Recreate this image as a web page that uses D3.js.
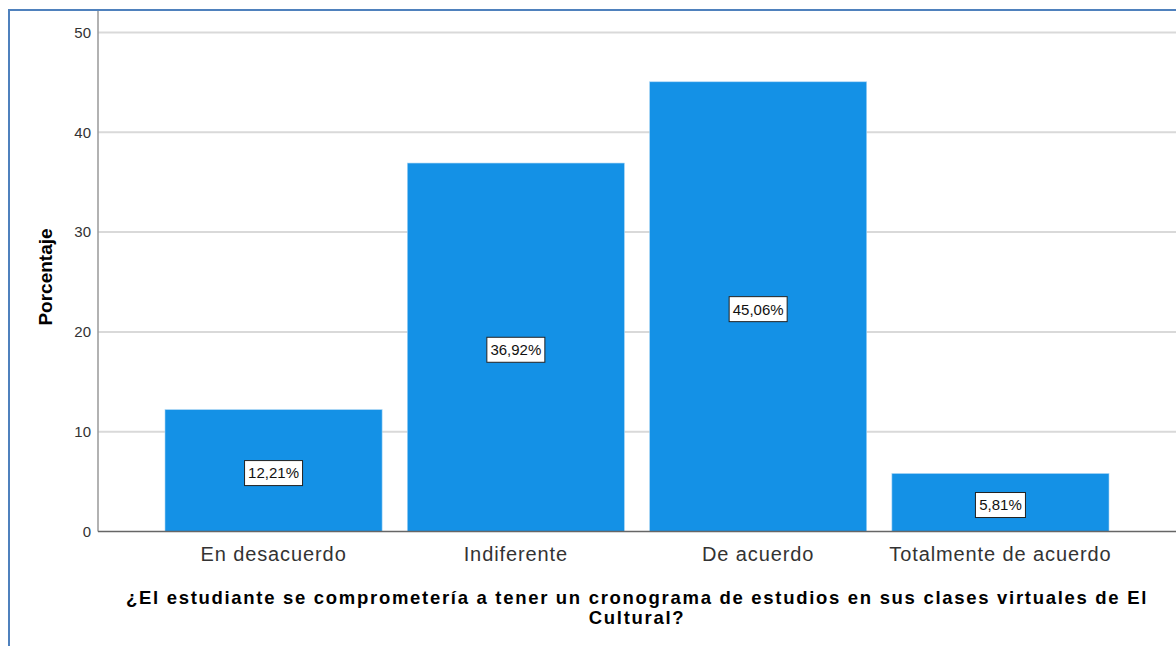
<!DOCTYPE html>
<html>
<head>
<meta charset="utf-8">
<script src="https://cdn.jsdelivr.net/npm/d3@7"></script>
<style>
  body { margin: 0; background: #fff; }
  svg { display: block; font-family: Arial, 'Liberation Sans', sans-serif; }
</style>
</head>
<body>
<div id="grafico"></div>
<script>
// datos
var categorias = ['En desacuerdo', 'Indiferente', 'De acuerdo', 'Totalmente de acuerdo']
var porcentajes = [12.21, 36.92, 45.06, 5.81]
var etiquetas = ['12,21%', '36,92%', '45,06%', '5,81%']
var ticksY = [0, 10, 20, 30, 40, 50]

var width = 1176
var height = 646

var svg = d3
  .select('#grafico')
  .append('svg')
  .attr('width', width)
  .attr('height', height)

// marco azul
svg
  .append('rect')
  .attr('x', 9)
  .attr('y', 10)
  .attr('width', width + 20)
  .attr('height', height + 20)
  .attr('fill', 'none')
  .attr('stroke', '#4f81bd')
  .attr('stroke-width', 2)

var ejeX0 = 98
var ejeY0 = 531.5

var yscale = d3.scaleLinear().domain([0, 50]).range([ejeY0, 32.5])

var xscale = d3
  .scaleBand()
  .domain(categorias)
  .range([152.4, 1121.6])
  .paddingInner(0.104)
  .paddingOuter(0.052)

// lineas de cuadricula
svg
  .append('g')
  .selectAll('line')
  .data(ticksY.filter((d) => d > 0))
  .enter()
  .append('line')
  .attr('x1', ejeX0)
  .attr('x2', width)
  .attr('y1', (d) => yscale(d))
  .attr('y2', (d) => yscale(d))
  .attr('stroke', '#d9d9d9')
  .attr('stroke-width', 2)

// eje Y
var yaxis = d3.axisLeft(yscale).tickValues(ticksY).tickSize(0).tickPadding(7)
var gY = svg.append('g').attr('transform', 'translate(' + ejeX0 + ',0)').call(yaxis)
gY.select('.domain').remove()
gY.selectAll('text').attr('fill', '#333').style('font-size', '15px').style('font-family', 'Arial, Liberation Sans, sans-serif')

svg
  .append('line')
  .attr('x1', ejeX0)
  .attr('x2', ejeX0)
  .attr('y1', 11)
  .attr('y2', ejeY0)
  .attr('stroke', '#999')
  .attr('stroke-width', 1.5)

// barras
svg
  .append('g')
  .selectAll('rect')
  .data(porcentajes)
  .enter()
  .append('rect')
  .attr('x', (d, i) => xscale(categorias[i]))
  .attr('y', (d) => yscale(d))
  .attr('width', xscale.bandwidth())
  .attr('height', (d) => yscale(0) - yscale(d))
  .attr('fill', '#1491e6')
  .attr('stroke', '#a9d6f5')
  .attr('stroke-width', 0.6)

// eje X
svg
  .append('line')
  .attr('x1', ejeX0)
  .attr('x2', width)
  .attr('y1', ejeY0)
  .attr('y2', ejeY0)
  .attr('stroke', '#666')
  .attr('stroke-width', 1.5)

var xaxis = d3.axisBottom(xscale).tickSize(0).tickPadding(15)
var gX = svg.append('g').attr('transform', 'translate(0,' + ejeY0 + ')').call(xaxis)
gX.select('.domain').remove()
gX.selectAll('text')
  .attr('fill', '#333')
  .style('font-size', '20px')
  .style('letter-spacing', '0.9px')
  .style('font-family', 'Arial, Liberation Sans, sans-serif')

// etiquetas de valor con caja
var etiq = svg
  .append('g')
  .selectAll('g')
  .data(porcentajes)
  .enter()
  .append('g')
  .attr('transform', (d, i) => 'translate(' + (xscale(categorias[i]) + xscale.bandwidth() / 2) + ',' + (yscale(d / 2) + 2.5) + ')')

etiq
  .append('rect')
  .attr('x', (d, i) => (i == 3 ? -25 : -29))
  .attr('y', -12.5)
  .attr('width', (d, i) => (i == 3 ? 50 : 58))
  .attr('height', 25)
  .attr('fill', '#fff')
  .attr('stroke', '#222')
  .attr('stroke-width', 1)

etiq
  .append('text')
  .attr('text-anchor', 'middle')
  .attr('dy', '0.36em')
  .style('font-size', '15px')
  .attr('fill', '#111')
  .text((d, i) => etiquetas[i])

// titulo eje Y
svg
  .append('text')
  .attr('transform', 'translate(52,277) rotate(-90)')
  .attr('text-anchor', 'middle')
  .style('font-size', '19px')
  .style('font-weight', 'bold')
  .text('Porcentaje')

// titulo eje X (dos lineas)
var tituloX = [
  '¿El estudiante se comprometería a tener un cronograma de estudios en sus clases virtuales de El',
  'Cultural?',
]
svg
  .append('g')
  .selectAll('text')
  .data(tituloX)
  .enter()
  .append('text')
  .attr('x', 637)
  .attr('y', (d, i) => 604 + i * 20)
  .attr('text-anchor', 'middle')
  .style('font-size', '18.5px')
  .style('font-weight', 'bold')
  .style('letter-spacing', '1.7px')
  .text((d) => d)
</script>
</body>
</html>
